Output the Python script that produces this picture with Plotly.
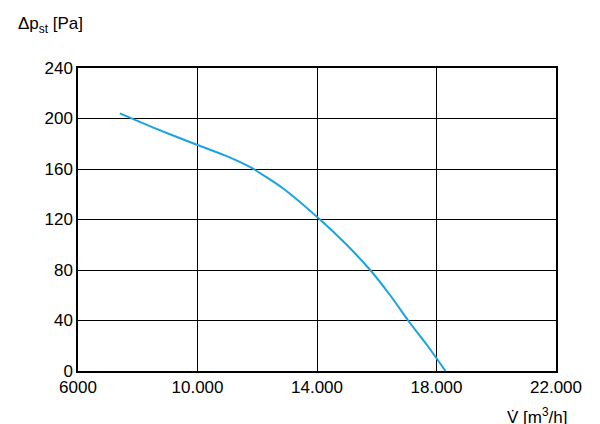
import plotly.graph_objects as go

flow = [7400, 8500, 10000, 11000, 11800, 12900, 14100, 14950, 15780, 16450, 17050, 17700, 18300]
pressure = [204, 193, 179, 170, 161, 144, 120, 101, 80, 60, 40, 20, 0]
xticks = [6000, 10000, 14000, 18000, 22000]
xticklabels = ["6000", "10.000", "14.000", "18.000", "22.000"]
yticks = [0, 40, 80, 120, 160, 200, 240]

font = "Liberation Sans Narrow, Arial Narrow, Liberation Sans, Arial, sans-serif"
fig = go.Figure(go.Scatter(x=flow, y=pressure, mode="lines", line=dict(color="#1aa3e0", width=2, shape="spline", smoothing=0.6)))
fig.update_layout(
    width=600, height=424, paper_bgcolor="white", plot_bgcolor="white",
    margin=dict(l=70, r=52, t=60, b=61, autoexpand=False), showlegend=False,
    font=dict(family=font, size=17, color="black"),
    annotations=[
        dict(text="Δp<sub>st</sub> [Pa]", xref="paper", yref="paper", x=-0.13, y=1.185, xanchor="left", yanchor="top", showarrow=False, font=dict(size=17)),
        dict(text="V̇ [m<sup>3</sup>/h]", xref="paper", yref="paper", x=0.96, y=-0.15, xanchor="center", yanchor="middle", showarrow=False, font=dict(size=17)),
    ],
)
fig.update_xaxes(range=[6000, 22000], tickvals=xticks, ticktext=xticklabels, showgrid=True, gridcolor="black", gridwidth=1, automargin=False,
                 showline=True, linecolor="black", linewidth=1.5, mirror=True, ticks="outside", ticklen=0, zeroline=False)
fig.update_yaxes(range=[0, 240], tickvals=yticks, showgrid=True, gridcolor="black", gridwidth=1, automargin=False,
                 showline=True, linecolor="black", linewidth=1.5, mirror=True, ticks="outside", ticklen=0, zeroline=False)
fig.write_html("out.html")
